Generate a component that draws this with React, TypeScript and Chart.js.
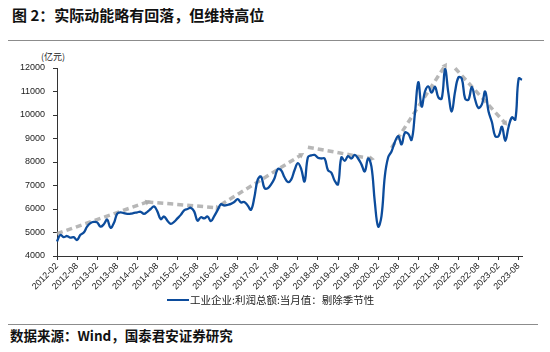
import React, { useEffect, useRef } from "react";
import { Chart, registerables } from "chart.js";

Chart.register(...registerables);

// month labels 2012-02 .. 2023-09
const months: string[] = [];
for (let i = 0; i < 140; i++) {
  const t = 2012 * 12 + 1 + i;
  const y = Math.floor(t / 12);
  const m = (t % 12) + 1;
  months.push(`${y}-${m < 10 ? "0" + m : m}`);
}

const profit: number[] = [
  4620, 4900, 4800, 4850, 4780, 4800, 4680, 4900, 5000, 5250,
  5400, 5450, 5430, 5250, 5350, 5550, 5200, 5400, 5800, 5860,
  5820, 5790, 5800, 5830, 5860, 5880, 5790, 5880, 6000, 6110,
  5900, 5570, 5680, 5500, 5370, 5450, 5600, 5750, 5940, 6000,
  6050, 5900, 5500, 5650, 5600, 5680, 5480, 5700, 5950, 6200,
  6150, 6180, 6220, 6300, 6420, 6280, 6300, 6150, 5970, 6500,
  7250, 7380, 6900, 6880, 7050, 7300, 7700, 7650, 7350, 7150,
  7250, 7650, 7950, 7700, 7170, 8200, 8280, 8300, 8180, 8150,
  8150, 7650, 7550, 7200, 7050, 8200, 8050, 8250, 8150, 8300,
  8150, 7900, 7600, 8150, 7800, 6300, 5250, 5700, 7400, 8200,
  8450, 8850, 9100, 8750, 9250, 9200, 8940, 10080, 11400, 10360,
  11000, 11220, 10950, 11200, 10750, 10700, 11950, 10930, 10150, 11000,
  11600, 11550, 10700, 10650, 11200, 10650, 10300, 10450, 11000, 10150,
  9700, 9100, 9100, 9500, 8900, 9500, 9900, 9800, 11550, 11500,
];

// trend arrows: start month, start value, end month, end value
const trendStart: string[] = ["2012-02", "2014-05", "2016-03", "2018-05", "2020-06", "2022-01"];
const trendStartVal: number[] = [4950, 6300, 6180, 8630, 8600, 11990];
const trendEnd: string[] = ["2014-05", "2016-02", "2018-03", "2019-12", "2021-10", "2023-04"];
const trendEndVal: number[] = [6300, 6050, 8300, 8140, 12100, 9650];

const yTicks: number[] = [4000, 5000, 6000, 7000, 8000, 9000, 10000, 11000, 12000];

const seriesName = "工业企业:利润总额:当月值：剔除季节性";
const BLUE = "#0c4c9c";
const GRAY = "rgba(170,170,170,0.85)";
const CJK = '"Noto Sans CJK SC", "Noto Sans", sans-serif';

export default function App() {
  const ref = useRef<HTMLCanvasElement | null>(null);

  useEffect(() => {
    if (!ref.current) return;
    const trendSets = trendStart.map((s, i) => ({
      type: "line" as const,
      data: [
        { x: s, y: trendStartVal[i] },
        { x: trendEnd[i], y: trendEndVal[i] },
      ],
      borderColor: GRAY,
      backgroundColor: GRAY,
      borderWidth: 3.5,
      borderDash: [6, 4],
      pointRadius: [0, 3.5],
      pointBorderWidth: 0,
      pointStyle: "triangle",
      pointRotation: (ctx: any) => {
        const sx = ctx.chart.scales.x;
        const sy = ctx.chart.scales.y;
        if (!sx || !sy) return 0;
        const dx = sx.getPixelForValue(months.indexOf(trendEnd[i])) - sx.getPixelForValue(months.indexOf(s));
        const dy = sy.getPixelForValue(trendEndVal[i]) - sy.getPixelForValue(trendStartVal[i]);
        return (Math.atan2(dx, -dy) * 180) / Math.PI;
      },
      tension: 0,
      clip: 10,
      order: 2,
    }));
    const chart = new Chart(ref.current, {
      type: "line",
      data: {
        labels: months,
        datasets: [
          ...trendSets,
          {
            data: profit,
            borderColor: BLUE,
            borderWidth: 2.3,
            pointRadius: 0,
            tension: 0.4,
            order: 1,
          } as any,
        ],
      },
      options: {
        animation: false,
        responsive: true,
        maintainAspectRatio: false,
        layout: { padding: { top: 8, left: 0, right: 28, bottom: 0 } },
        plugins: { legend: { display: false }, tooltip: { enabled: false } },
        scales: {
          x: {
            type: "category",
            offset: false,
            afterFit: (s: any) => {
              s.height = 44;
            },
            grid: {
              drawOnChartArea: false,
              drawTicks: true,
              tickLength: 4,
              color: (ctx: any) => (ctx.index % 6 === 0 ? "#333" : "rgba(0,0,0,0)"),
            },
            border: { display: true, color: "#333", width: 1 },
            ticks: {
              autoSkip: false,
              minRotation: 45,
              maxRotation: 45,
              padding: 1,
              color: "#222",
              font: { family: "Liberation Sans, Arial, sans-serif", size: 9 },
              callback: (_v: any, i: number) => (i % 6 === 0 ? months[i] : ""),
            },
          },
          y: {
            min: 4000,
            max: 12000,
            afterFit: (s: any) => {
              s.width = 57;
              s.paddingTop = 0;
              s.paddingBottom = 0;
            },
            afterBuildTicks: (s: any) => {
              s.ticks = yTicks.map((v) => ({ value: v }));
            },
            grid: { drawOnChartArea: false, drawTicks: true, tickLength: 4, color: "#333" },
            border: { display: true, color: "#333", width: 1 },
            ticks: {
              padding: 8,
              color: "#222",
              font: { family: "Liberation Sans, Arial, sans-serif", size: 9 },
              callback: (v: any) => String(v),
            },
          },
        },
      },
    });
    return () => chart.destroy();
  }, []);

  return (
    <div style={{ position: "fixed", left: 0, top: 0, width: 550, height: 352, background: "#fff", overflow: "hidden" }}>
      <div
        style={{
          position: "absolute",
          left: 12,
          top: 5,
          fontFamily: CJK,
          fontWeight: 700,
          fontSize: 15,
          lineHeight: "20px",
          color: "#111",
          whiteSpace: "nowrap",
        }}
      >
        图 2：实际动能略有回落，但维持高位
      </div>
      <div style={{ position: "absolute", left: 8, top: 40, width: 536, height: 1, background: "#8c8c8c" }} />
      <div
        style={{
          position: "absolute",
          left: 41,
          top: 51,
          fontFamily: CJK,
          fontSize: 9,
          lineHeight: "12px",
          color: "#222",
          whiteSpace: "nowrap",
        }}
      >
        (亿元)
      </div>
      <div style={{ position: "absolute", left: 0, top: 60, width: 550, height: 240 }}>
        <canvas ref={ref} />
      </div>
      <div style={{ position: "absolute", left: 167, top: 299, width: 22, height: 2, background: BLUE }} />
      <div
        style={{
          position: "absolute",
          left: 190,
          top: 293,
          fontFamily: CJK,
          fontSize: 10.5,
          lineHeight: "14px",
          color: "#222",
          whiteSpace: "nowrap",
        }}
      >
        {seriesName}
      </div>
      <div style={{ position: "absolute", left: 8, top: 324, width: 530, height: 1, background: "#8c8c8c" }} />
      <div
        style={{
          position: "absolute",
          left: 10,
          top: 326,
          fontFamily: CJK,
          fontWeight: 700,
          fontSize: 13.5,
          lineHeight: "18px",
          color: "#111",
          whiteSpace: "nowrap",
        }}
      >
        数据来源：Wind，国泰君安证券研究
      </div>
    </div>
  );
}
